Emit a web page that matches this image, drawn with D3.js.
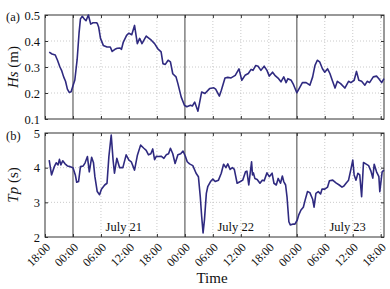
<!DOCTYPE html>
<html lang="en">

<head>
	<script src='https://d3js.org/d3.v7.min.js'></script>
	<style>
		body { margin: 0; background: #fff; }
		text { font-family: "Liberation Serif", "Times New Roman", serif; fill: #111; }
	</style>
</head>

<body>
	<script>
    // hours after 18:00 on July 20
    const hsTime = [0.9, 1.5, 2.2, 2.7, 3.2, 3.6, 4.0, 4.4, 4.8, 5.2, 5.6, 6.0, 6.4, 6.9, 7.3, 7.6, 8.0, 8.4, 8.8, 9.3,
      9.8, 10.3, 11.0, 11.2, 11.5, 11.9, 12.5, 13.3, 14.0, 14.4, 15.0, 15.5, 16.1, 16.4, 16.8, 17.5, 18.0, 18.6, 19.2, 19.8,
      20.3, 20.8, 21.7, 22.8, 23.5, 24.2, 24.9, 25.3, 25.8, 26.4, 26.9, 27.4, 28.1, 28.5, 29.2, 29.9, 30.4, 31.2, 31.6, 32.1,
      32.8, 33.6, 34.3, 35.3, 36.2, 36.6, 37.4, 37.8, 38.6, 39.2, 39.9, 40.8, 41.6, 42.2, 42.9, 43.6, 44.2, 44.6, 45.2, 45.7,
      46.3, 47.0, 47.6, 48.1, 48.8, 49.3, 50.1, 50.6, 51.2, 51.7, 52.1, 52.8, 53.3, 54.0, 54.5, 55.2, 56.0, 56.8, 57.4, 57.9,
      58.4, 58.9, 59.5, 60.0, 60.6, 61.1, 61.6, 62.2, 62.7, 63.4, 64.3, 65.1, 65.6, 66.3, 66.8, 67.3, 67.9, 68.6, 69.1, 69.6,
      70.4, 71.1, 71.6, 72.2, 72.7];
    const hsValue = [0.357, 0.350, 0.346, 0.325, 0.300, 0.285, 0.262, 0.245, 0.215, 0.202, 0.205, 0.228, 0.250, 0.330, 0.430, 0.485, 0.495, 0.485, 0.478, 0.500,
      0.465, 0.470, 0.470, 0.468, 0.454, 0.410, 0.383, 0.377, 0.377, 0.360, 0.368, 0.372, 0.373, 0.368, 0.396, 0.422, 0.430, 0.424, 0.460, 0.390,
      0.410, 0.390, 0.419, 0.403, 0.390, 0.370, 0.358, 0.313, 0.310, 0.326, 0.320, 0.274, 0.262, 0.236, 0.185, 0.153, 0.147, 0.153, 0.150, 0.165,
      0.130, 0.204, 0.198, 0.217, 0.220, 0.215, 0.188, 0.210, 0.258, 0.260, 0.258, 0.268, 0.293, 0.249, 0.268, 0.275, 0.291, 0.287, 0.306, 0.303,
      0.287, 0.303, 0.287, 0.265, 0.280, 0.268, 0.255, 0.243, 0.262, 0.240, 0.255, 0.249, 0.232, 0.201, 0.217, 0.240, 0.240, 0.230, 0.262, 0.306,
      0.326, 0.320, 0.293, 0.280, 0.293, 0.275, 0.249, 0.219, 0.245, 0.236, 0.219, 0.245, 0.240, 0.249, 0.283, 0.249, 0.245, 0.230, 0.245, 0.240,
      0.262, 0.265, 0.255, 0.240, 0.255];

    const tpTime = [0.9, 1.4, 2.0, 2.4, 2.8, 3.1, 3.4, 3.8, 4.3, 4.8, 5.4, 6.0, 6.5, 6.8, 7.2, 7.6, 8.2, 8.6, 9.1, 9.5,
      10.0, 10.4, 10.7, 11.2, 11.7, 12.1, 12.8, 13.3, 13.7, 14.2, 14.6, 14.9, 15.4, 16.0, 16.7, 17.4, 18.0, 18.5, 19.2, 19.8,
      20.5, 21.2, 21.7, 22.2, 22.7, 23.1, 23.5, 23.9, 24.3, 24.9, 25.5, 26.0, 26.5, 26.9, 27.4, 27.9, 28.5, 29.1, 29.6, 30.1,
      30.5, 31.0, 31.7, 32.4, 32.9, 33.3, 33.6, 33.9, 34.2, 34.6, 34.9, 35.5, 36.0, 36.5, 37.2, 37.8, 38.3, 38.8, 39.2, 39.7,
      40.2, 40.6, 41.2, 41.9, 42.4, 43.0, 43.3, 43.7, 44.3, 44.5, 44.7, 45.0, 45.5, 46.1, 46.6, 47.0, 47.6, 48.1, 48.7, 49.1,
      49.6, 50.0, 50.5, 50.9, 51.2, 51.6, 51.9, 52.3, 52.6, 53.1, 53.6, 54.1, 54.4, 54.9, 55.4, 55.8, 56.3, 56.8, 57.4, 57.7,
      58.1, 58.6, 59.1, 59.4, 60.0, 60.6, 61.0, 61.7, 62.4, 63.1, 63.7, 64.1, 64.6, 65.1, 65.6, 66.0, 66.3, 66.7, 67.1, 67.5,
      67.9, 68.3, 68.8, 69.4, 69.9, 70.3, 70.6, 71.1, 71.6, 71.8, 72.3, 72.7];
    const tpValue = [4.22, 3.79, 4.03, 4.14, 4.08, 4.24, 4.08, 4.20, 4.11, 4.05, 4.03, 4.00, 3.79, 3.58, 3.60, 4.03, 4.05, 4.14, 4.32, 3.88,
      4.30, 4.14, 3.74, 3.31, 3.22, 3.38, 3.50, 3.55, 4.32, 4.94, 4.22, 3.84, 4.27, 4.00, 4.00, 4.37, 4.22, 4.17, 3.93, 4.35,
      4.65, 4.56, 4.50, 4.37, 4.40, 4.54, 4.23, 4.33, 4.32, 4.33, 4.27, 4.37, 4.40, 4.56, 4.40, 4.12, 4.37, 4.40, 4.48, 4.33,
      4.17, 4.11, 4.06, 3.84, 3.74, 3.16, 2.59, 2.12, 2.50, 3.26, 3.45, 3.60, 3.67, 3.60, 3.64, 3.84, 4.10, 4.00, 4.11, 3.95,
      4.00, 3.95, 3.55, 3.60, 3.64, 3.88, 3.90, 3.50, 4.17, 3.79, 3.85, 3.69, 3.66, 3.55, 3.64, 3.62, 3.85, 3.74, 3.84, 3.55,
      3.50, 3.69, 3.55, 3.76, 3.60, 3.50, 3.16, 2.44, 2.35, 2.37, 2.37, 2.49, 2.63, 2.78, 2.86, 3.07, 3.31, 3.28, 3.09, 2.86,
      3.26, 3.31, 3.24, 3.38, 3.38, 3.44, 3.62, 3.64, 3.56, 3.50, 3.44, 3.47, 3.56, 3.64, 3.95, 4.22, 3.79, 3.64, 3.84, 3.79,
      3.16, 4.15, 4.11, 4.06, 3.90, 3.70, 4.10, 3.88, 3.74, 3.31, 3.88, 3.93];

    const xTicks = [0, 6, 12, 18, 24, 30, 36, 42, 48, 54, 60, 66, 72];
    const xTickLabels = ["18:00", "00:00", "06:00", "12:00", "18:00", "00:00", "06:00", "12:00", "18:00", "00:00", "06:00", "12:00", "18:00"];
    const midnights = [6, 30, 54];
    const dayLabels = ["July 21", "July 22", "July 23"];
    const dayLabelHour = [16.9, 40.9, 64.9];
    const hsTicks = [0.1, 0.2, 0.3, 0.4, 0.5];
    const tpTicks = [2, 3, 4, 5];

    const width = 390;
    const height = 289;
    const left = 45;
    const right = 384;
    const lineColour = "#2f2a80";
    const serif = '"Liberation Serif", "Times New Roman", serif';

    const svg = d3.select("body").append("svg")
      .attr("width", width)
      .attr("height", height);

    const x = d3.scaleLinear().domain([0, 72.7]).range([left, right]);

    function panel(top, bottom, yDomain, yTicks, times, values, showLabels) {
      const y = d3.scaleLinear().domain(yDomain).range([bottom, top]);
      const g = svg.append("g");

      // dotted grid
      g.selectAll(".vgrid").data(xTicks.filter(t => midnights.indexOf(t) < 0 && t > 0))
        .enter().append("line")
        .attr("x1", d => x(d)).attr("x2", d => x(d))
        .attr("y1", top).attr("y2", bottom)
        .attr("stroke", "#bcbcbc").attr("stroke-width", 0.8)
        .attr("stroke-dasharray", "1,2");
      g.selectAll(".hgrid").data(yTicks.slice(1, -1))
        .enter().append("line")
        .attr("x1", left).attr("x2", right)
        .attr("y1", d => y(d)).attr("y2", d => y(d))
        .attr("stroke", "#bcbcbc").attr("stroke-width", 0.8)
        .attr("stroke-dasharray", "1,2");

      // day separators
      g.selectAll(".mid").data(midnights)
        .enter().append("line")
        .attr("x1", d => x(d)).attr("x2", d => x(d))
        .attr("y1", top).attr("y2", bottom)
        .attr("stroke", "#808080").attr("stroke-width", 1.5);

      // axes with inward ticks, MATLAB style box
      g.append("g").attr("transform", `translate(${left},0)`)
        .call(d3.axisLeft(y).tickValues(yTicks).tickSize(-3).tickPadding(5).tickFormat(d3.format("")))
        .call(a => a.select(".domain").remove())
        .call(a => a.selectAll("text").style("font-size", "12.5px").style("font-family", serif));
      g.append("g").attr("transform", `translate(${right},0)`)
        .call(d3.axisRight(y).tickValues(yTicks).tickSize(-3).tickFormat(""))
        .call(a => a.select(".domain").remove());
      g.append("g").attr("transform", `translate(0,${top})`)
        .call(d3.axisTop(x).tickValues(xTicks).tickSize(-3).tickFormat(""))
        .call(a => a.select(".domain").remove());
      g.append("g").attr("transform", `translate(0,${bottom})`)
        .call(d3.axisBottom(x).tickValues(xTicks).tickSize(-3).tickFormat(""))
        .call(a => a.select(".domain").remove());
      g.selectAll(".tick line").attr("stroke", "#333");

      g.append("rect")
        .attr("x", left).attr("y", top)
        .attr("width", right - left).attr("height", bottom - top)
        .attr("fill", "none").attr("stroke", "#333").attr("stroke-width", 1);

      const pts = times.map((t, i) => [t, values[i]]);
      g.append("path")
        .datum(pts)
        .attr("fill", "none")
        .attr("stroke", lineColour)
        .attr("stroke-width", 1.6)
        .attr("stroke-linejoin", "round")
        .attr("d", d3.line().x(d => x(d[0])).y(d => y(d[1])));

      if (showLabels) {
        g.selectAll(".xl").data(xTicks)
          .enter().append("text")
          .attr("transform", d => `translate(${x(d) + 3},${bottom + 8}) rotate(-45)`)
          .attr("text-anchor", "end")
          .attr("dy", "0.35em")
          .style("font-size", "12px")
          .text((d, i) => xTickLabels[i]);
      }
      return y;
    }

    panel(15, 119, [0.1, 0.5], hsTicks, hsTime, hsValue, false);
    panel(133, 237, [2, 5], tpTicks, tpTime, tpValue, true);

    // day names inside lower panel
    svg.selectAll(".day").data(dayLabels)
      .enter().append("text")
      .attr("x", (d, i) => x(dayLabelHour[i]))
      .attr("y", 231)
      .attr("text-anchor", "middle")
      .style("font-size", "12.5px")
      .text(d => d);

    // panel letters
    svg.append("text").attr("x", 6).attr("y", 21).style("font-size", "12.5px").text("(a)");
    svg.append("text").attr("x", 6).attr("y", 140).style("font-size", "12.5px").text("(b)");

    // y titles
    const hsTitle = svg.append("text")
      .attr("transform", "translate(18,67) rotate(-90)")
      .attr("text-anchor", "middle")
      .style("font-size", "15px");
    hsTitle.append("tspan").attr("font-style", "italic").text("Hs");
    hsTitle.append("tspan").text(" (m)");

    const tpTitle = svg.append("text")
      .attr("transform", "translate(18,185) rotate(-90)")
      .attr("text-anchor", "middle")
      .style("font-size", "15px");
    tpTitle.append("tspan").attr("font-style", "italic").text("Tp");
    tpTitle.append("tspan").text(" (s)");

    svg.append("text")
      .attr("x", 212).attr("y", 283)
      .attr("text-anchor", "middle")
      .style("font-size", "15px")
      .text("Time");
	</script>

</body>

</html>
